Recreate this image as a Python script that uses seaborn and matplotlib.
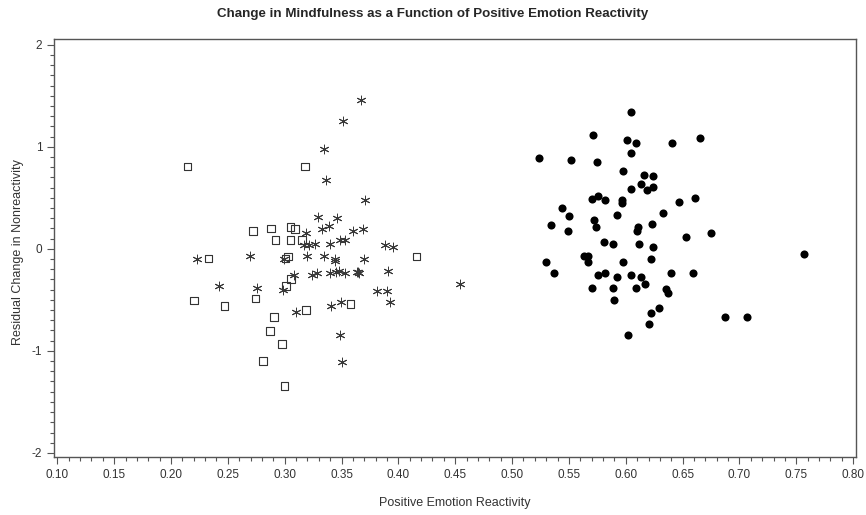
import numpy as np
import pandas as pd
import matplotlib
matplotlib.use("Agg")
import matplotlib.pyplot as plt
import seaborn as sns
from matplotlib.ticker import MultipleLocator, FormatStrFormatter

# open squares
sq_x = [0.2145, 0.318, 0.272, 0.288, 0.305, 0.309, 0.292, 0.305, 0.315, 0.233,
        0.303, 0.3006, 0.416, 0.3057, 0.301, 0.220, 0.247, 0.2745, 0.358, 0.3186,
        0.2906, 0.287, 0.2977, 0.281, 0.2997]
sq_y = [0.805, 0.805, 0.174, 0.200, 0.214, 0.194, 0.085, 0.085, 0.085, -0.095,
        -0.075, -0.095, -0.075, -0.296, -0.365, -0.506, -0.560, -0.486, -0.542, -0.598,
        -0.667, -0.805, -0.933, -1.097, -1.343]

# asterisks
st_x = [0.367, 0.3515, 0.335, 0.336, 0.371, 0.3295, 0.346, 0.333, 0.339, 0.360,
        0.369, 0.319, 0.3174, 0.321, 0.327, 0.340, 0.349, 0.3527, 0.3886, 0.3957,
        0.2233, 0.2697, 0.299, 0.320, 0.335, 0.344, 0.344, 0.3695, 0.3906, 0.308,
        0.324, 0.328, 0.3395, 0.3447, 0.3477, 0.3527, 0.364, 0.3654, 0.3645, 0.242,
        0.2754, 0.2986, 0.3816, 0.3898, 0.3928, 0.3495, 0.341, 0.3098, 0.349, 0.3507,
        0.454]
st_y = [1.461, 1.248, 0.978, 0.677, 0.480, 0.315, 0.299, 0.197, 0.227, 0.174,
        0.194, 0.151, 0.033, 0.033, 0.049, 0.049, 0.085, 0.085, 0.033, 0.013,
        -0.095, -0.069, -0.095, -0.069, -0.069, -0.095, -0.118, -0.095, -0.217, -0.256,
        -0.256, -0.236, -0.236, -0.223, -0.217, -0.236, -0.223, -0.236, -0.228, -0.361,
        -0.381, -0.400, -0.417, -0.417, -0.522, -0.522, -0.560, -0.624, -0.847, -1.113,
        -0.345]

# filled dots
dot_x = [0.605, 0.571, 0.601, 0.609, 0.641, 0.665, 0.605, 0.524, 0.552, 0.575,
         0.598, 0.616, 0.624, 0.613, 0.619, 0.624, 0.605, 0.570, 0.576, 0.582,
         0.597, 0.597, 0.647, 0.661, 0.544, 0.550, 0.592, 0.633, 0.534, 0.549,
         0.572, 0.574, 0.611, 0.610, 0.623, 0.653, 0.675, 0.581, 0.589, 0.612,
         0.624, 0.622, 0.563, 0.567, 0.567, 0.530, 0.598, 0.537, 0.576, 0.582,
         0.592, 0.605, 0.613, 0.640, 0.659, 0.570, 0.589, 0.609, 0.617, 0.635,
         0.637, 0.590, 0.629, 0.622, 0.620, 0.602, 0.687, 0.707, 0.757]
dot_y = [1.337, 1.120, 1.067, 1.034, 1.034, 1.087, 0.936, 0.887, 0.870, 0.854,
         0.765, 0.726, 0.709, 0.640, 0.581, 0.604, 0.584, 0.493, 0.515, 0.480,
         0.483, 0.453, 0.460, 0.496, 0.404, 0.318, 0.335, 0.355, 0.230, 0.174,
         0.283, 0.210, 0.217, 0.171, 0.246, 0.118, 0.158, 0.066, 0.046, 0.046,
         0.013, -0.095, -0.072, -0.072, -0.131, -0.131, -0.131, -0.236, -0.256, -0.236,
         -0.276, -0.256, -0.276, -0.236, -0.236, -0.381, -0.381, -0.381, -0.342, -0.394,
         -0.437, -0.506, -0.578, -0.627, -0.739, -0.847, -0.667, -0.667, -0.052]

df_sq = pd.DataFrame({'x': sq_x, 'y': sq_y})
df_st = pd.DataFrame({'x': st_x, 'y': st_y})
df_dot = pd.DataFrame({'x': dot_x, 'y': dot_y})

sns.set_style("white")
plt.rcParams['font.family'] = ['Liberation Sans', 'DejaVu Sans']
plt.rcParams['axes.unicode_minus'] = False

fig = plt.figure(figsize=(8.66, 5.15), dpi=100)
ax = fig.add_axes([54 / 866, 1 - 457 / 515, (856 - 54) / 866, (457 - 39) / 515])

sns.scatterplot(data=df_sq, x='x', y='y', marker='s', s=30, facecolor='none',
                edgecolor='#333333', linewidth=0.8, ax=ax)
sns.scatterplot(data=df_st, x='x', y='y', marker=(6, 2, 0), s=40,
                color='#3a3a3a', linewidth=0.7, ax=ax)
sns.scatterplot(data=df_dot, x='x', y='y', marker='o', s=34, color='black',
                edgecolor='black', linewidth=0, ax=ax)

ax.set_xlim(0.0971, 0.8025)
ax.set_ylim(-2.04, 2.056)
ax.xaxis.set_major_locator(MultipleLocator(0.05))
ax.xaxis.set_minor_locator(MultipleLocator(0.01))
ax.xaxis.set_major_formatter(FormatStrFormatter('%.2f'))
ax.yaxis.set_major_locator(MultipleLocator(1))
ax.yaxis.set_minor_locator(MultipleLocator(0.1))

for side in ['left', 'bottom', 'top', 'right']:
    ax.spines[side].set_color('#555555')
    ax.spines[side].set_linewidth(1.0)

ax.tick_params(axis='both', which='major', direction='out', length=5, width=0.8,
               color='#555555', labelsize=8.5, labelcolor='#333333',
               bottom=True, left=True)
ax.tick_params(axis='both', which='minor', direction='out', length=3, width=0.8,
               color='#555555', bottom=True, left=True)

ax.set_xlabel('Positive Emotion Reactivity', fontsize=9, color='#333333', labelpad=12)
ax.set_ylabel('Residual Change in Nonreactivity', fontsize=9, color='#333333')
ax.yaxis.set_label_coords((24 - 54) / 802, 0.49)
fig.suptitle('Change in Mindfulness as a Function of Positive Emotion Reactivity',
             x=0.5, y=1 - 8 / 515, fontsize=9.6, fontweight='bold', va='top')

fig.savefig('out.png', dpi=100)
